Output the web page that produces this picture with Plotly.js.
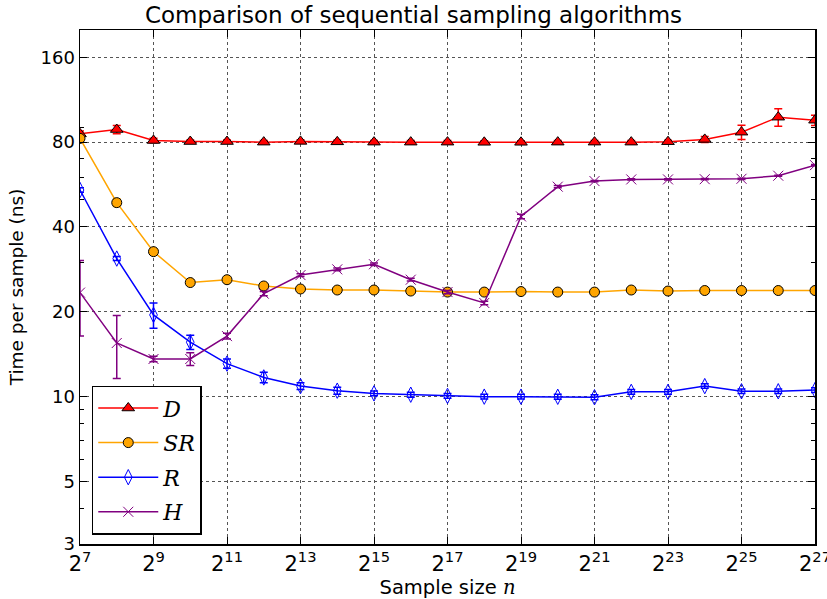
<!DOCTYPE html>
<html>
<head>
<meta charset="utf-8">
<script src="https://cdn.plot.ly/plotly-3.0.1.min.js"></script>
<style>html,body{margin:0;padding:0;background:#fff;}#chart{width:827px;height:599px;}</style>
</head>
<body>
<div id="chart"></div>
<script>
// Sample sizes n = 2^exponent
var exponents = [7,8,9,10,11,12,13,14,15,16,17,18,19,20,21,22,23,24,25,26,27];

// Time per sample (ns)
var D_vals  = [85.6, 88.7, 81.1, 80.4, 80.4, 80.0, 80.5, 80.2, 80.0, 80.0, 80.0, 79.9, 79.9, 80.0, 80.0, 80.0, 80.3, 81.8, 86.8, 98.1, 95.7];
var D_err   = [2, 3, 1.5, 1, 1, 1, 1, 1, 1, 1, 1, 1, 1, 1, 1, 1, 1, 2, 5, 7, 4];
var SR_vals = [82.5, 48.8, 32.7, 25.4, 26.0, 24.7, 24.1, 23.9, 23.9, 23.7, 23.5, 23.5, 23.6, 23.5, 23.5, 23.9, 23.7, 23.8, 23.8, 23.8, 23.8];
var SR_err  = [1.5, 1.5, 0.6, 0.5, 0.4, 0.4, 0.3, 0.3, 0.3, 0.3, 0.3, 0.3, 0.3, 0.3, 0.3, 0.3, 0.3, 0.3, 0.3, 0.3, 0.3];
var R_vals  = [54.1, 30.9, 19.5, 15.6, 13.1, 11.7, 10.9, 10.5, 10.27, 10.16, 10.06, 10.0, 10.0, 9.99, 9.95, 10.4, 10.4, 10.9, 10.45, 10.45, 10.55];
var R_err   = [1, 0.5, 2, 0.9, 0.5, 0.5, 0.3, 0.3, 0.2, 0.2, 0.2, 0.2, 0.2, 0.2, 0.2, 0.2, 0.2, 0.2, 0.2, 0.2, 0.2];
var H_vals  = [23.4, 15.5, 13.6, 13.6, 16.4, 23.2, 27.0, 28.3, 29.5, 26.0, 23.5, 21.5, 43.6, 55.6, 58.2, 59.0, 59.0, 59.1, 59.3, 60.8, 66.3];
var H_err   = [7, 3.9, 0.3, 0.7, 0.4, 0.4, 0.3, 0.3, 0.3, 0.3, 0.3, 0.3, 0.8, 0.5, 0.3, 0.3, 0.3, 0.3, 0.3, 0.3, 0.3];

// Tick labels
var yTickVals = [3, 5, 10, 20, 40, 80, 160];
var yTickText = ['3', '5', '10', '20', '40', '80', '160'];
var xTickExps = [7,9,11,13,15,17,19,21,23,25,27];

var nVals = exponents.map(function(e){ return Math.pow(2, e); });
var xTickVals = xTickExps.map(function(e){ return Math.pow(2, e); });
var xTickText = xTickExps.map(function(e){ return '2<sup>' + e + '</sup>'; });

var yMinor = [];
[1, 10, 100].forEach(function(d){ for (var k = 2; k <= 9; k++) { var v = k*d; if (v >= 3 && v <= 200) yMinor.push(v); } });

function series(name, vals, err, color, symbol, msize, mfill, mline){
  return {
    x: nVals, y: vals, name: name, legendgroup: name, type: 'scatter', mode: 'lines+markers',
    line: {color: color, width: 1.5},
    marker: {symbol: symbol, size: msize, color: mfill, line: {color: mline, width: 1}},
    error_y: {type: 'data', array: err, visible: true, color: color, thickness: 1.5, width: 4}
  };
}

var sans = "'DejaVu Sans', sans-serif";
var serif = "'DejaVu Serif', serif";
var data = [
  series('<i>D</i>', D_vals, D_err, '#ff0000', 'triangle-up', 11, '#ff0000', '#000000'),
  series('<i>SR</i>', SR_vals, SR_err, '#ffa500', 'circle', 10, '#ffa500', '#000000'),
  series('<i>R</i>', R_vals, R_err, '#0000ff', 'diamond-tall-open', 11, '#0000ff', '#0000ff'),
  series('<i>H</i>', H_vals, H_err, '#800080', 'x-thin-open', 10, '#800080', '#800080')
];

var layout = {
  width: 827, height: 599,
  margin: {l: 80, r: 12, t: 30, b: 55},
  paper_bgcolor: '#fff', plot_bgcolor: '#fff',
  title: {text: 'Comparison of sequential sampling algorithms', font: {family: sans, size: 23, color: '#000'}, x: 0.5, xanchor: 'center', y: 0.975, yanchor: 'middle'},
  showlegend: true,
  legend: {x: 0.016, y: 0.308, xanchor: 'left', yanchor: 'top', bgcolor: '#fff', bordercolor: '#000', borderwidth: 1.5,
           font: {family: serif, size: 22, color: '#000'}, tracegroupgap: 3, itemwidth: 60},
  xaxis: {
    type: 'log', range: [7*Math.log10(2), 27*Math.log10(2)],
    tickmode: 'array', tickvals: xTickVals, ticktext: xTickText,
    tickfont: {family: sans, size: 21, color: '#000'},
    ticklabeloverflow: 'allow',
    ticks: 'inside', ticklen: 7, tickwidth: 1, tickcolor: '#000',
    showline: true, linecolor: '#000', linewidth: 1.5, mirror: 'allticks',
    showgrid: true, gridcolor: '#555', griddash: 'dot', gridwidth: 1,
    zeroline: false,
    title: {text: "Sample size <span style=\"font-family:'DejaVu Serif'\"><i>n</i></span>", font: {family: sans, size: 19.5, color: '#000'}, standoff: 0}
  },
  yaxis: {
    type: 'log', range: [Math.log10(3), Math.log10(200)],
    tickmode: 'array', tickvals: yTickVals, ticktext: yTickText,
    tickfont: {family: sans, size: 18, color: '#000'},
    ticks: 'inside', ticklen: 7, tickwidth: 1, tickcolor: '#000',
    showline: true, linecolor: '#000', linewidth: 1.5, mirror: 'allticks',
    showgrid: true, gridcolor: '#555', griddash: 'dot', gridwidth: 1,
    zeroline: false,
    minor: {tickmode: 'array', tickvals: yMinor, ticks: 'inside', ticklen: 4, tickcolor: '#000', showgrid: false},
    title: {text: 'Time per sample (ns)', font: {family: sans, size: 18.5, color: '#000'}, standoff: 12}
  }
};

Plotly.newPlot('chart', data, layout, {displayModeBar: false, staticPlot: true});
</script>
</body>
</html>
